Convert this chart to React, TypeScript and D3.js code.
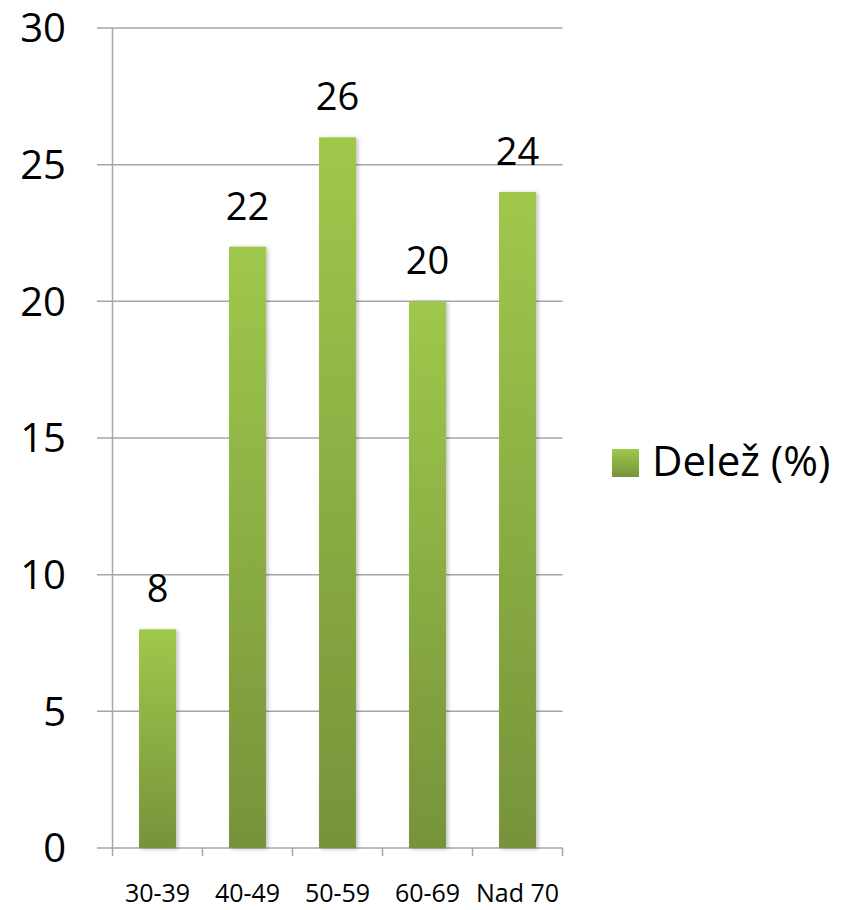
import React from 'react'
import * as d3 from 'd3'

const categories = ['30-39', '40-49', '50-59', '60-69', 'Nad 70']
const values = [8, 22, 26, 20, 24]
const yTicks = [0, 5, 10, 15, 20, 25, 30]
const seriesName = 'Delež (%)'

const App = () => {
  const width = 846
  const height = 910
  const left = 112.5
  const right = 562.5
  const top = 28
  const bottom = 848

  const x = d3.scaleBand<string>().domain(categories).range([left, right]).padding(0)
  const y = d3.scaleLinear().domain([0, 30]).range([bottom, top])
  const barW = x.bandwidth() * 0.41
  const font = "'Open Sans', 'Liberation Sans', sans-serif"
  const grid = '#a6a6a6'

  return (
    <svg width={width} height={height} style={{ position: 'absolute', left: 0, top: 0 }} fontFamily={font}>
      <defs>
        <linearGradient id="barGrad" x1="0" y1="0" x2="0" y2="1">
          <stop offset="0%" stopColor="#9fc84c" />
          <stop offset="100%" stopColor="#76933a" />
        </linearGradient>
        <filter id="shadow" x="-20%" y="-5%" width="150%" height="110%">
          <feGaussianBlur in="SourceAlpha" stdDeviation="2" />
          <feOffset dx="2" dy="1" result="b" />
          <feComponentTransfer>
            <feFuncA type="linear" slope="0.25" />
          </feComponentTransfer>
          <feMerge>
            <feMergeNode />
            <feMergeNode in="SourceGraphic" />
          </feMerge>
        </filter>
      </defs>

      {/* gridlines */}
      {yTicks.map((t) => (
        <g key={t}>
          <line x1={97} x2={right} y1={y(t)} y2={y(t)} stroke={grid} strokeWidth={1.5} />
          <text x={66} y={y(t)} dy="0.36em" textAnchor="end" fontSize={40} fill="#000">
            {t}
          </text>
        </g>
      ))}

      {/* y axis */}
      <line x1={left} x2={left} y1={top} y2={bottom} stroke={grid} strokeWidth={1.5} />

      {/* x ticks */}
      {[...categories.map((c) => x(c) as number), right].map((px, i) => (
        <line key={i} x1={px} x2={px} y1={bottom} y2={bottom + 8} stroke={grid} strokeWidth={1.5} />
      ))}

      {/* bars */}
      {categories.map((c, i) => {
        const cx = (x(c) as number) + x.bandwidth() / 2
        return (
          <g key={c}>
            <rect
              x={cx - barW / 2}
              y={y(values[i])}
              width={barW}
              height={bottom - y(values[i])}
              fill="url(#barGrad)"
              filter="url(#shadow)"
            />
            <text x={cx} y={y(values[i]) - 27} textAnchor="middle" fontSize={38} fill="#000">
              {values[i]}
            </text>
            <text x={cx} y={902} textAnchor="middle" fontSize={25} fill="#000">
              {c}
            </text>
          </g>
        )
      })}

      {/* legend */}
      <rect x={612} y={449} width={27} height={28} fill="url(#barGrad)" />
      <text x={652} y={476} fontSize={42} fill="#000">
        {seriesName}
      </text>
    </svg>
  )
}

export default App
